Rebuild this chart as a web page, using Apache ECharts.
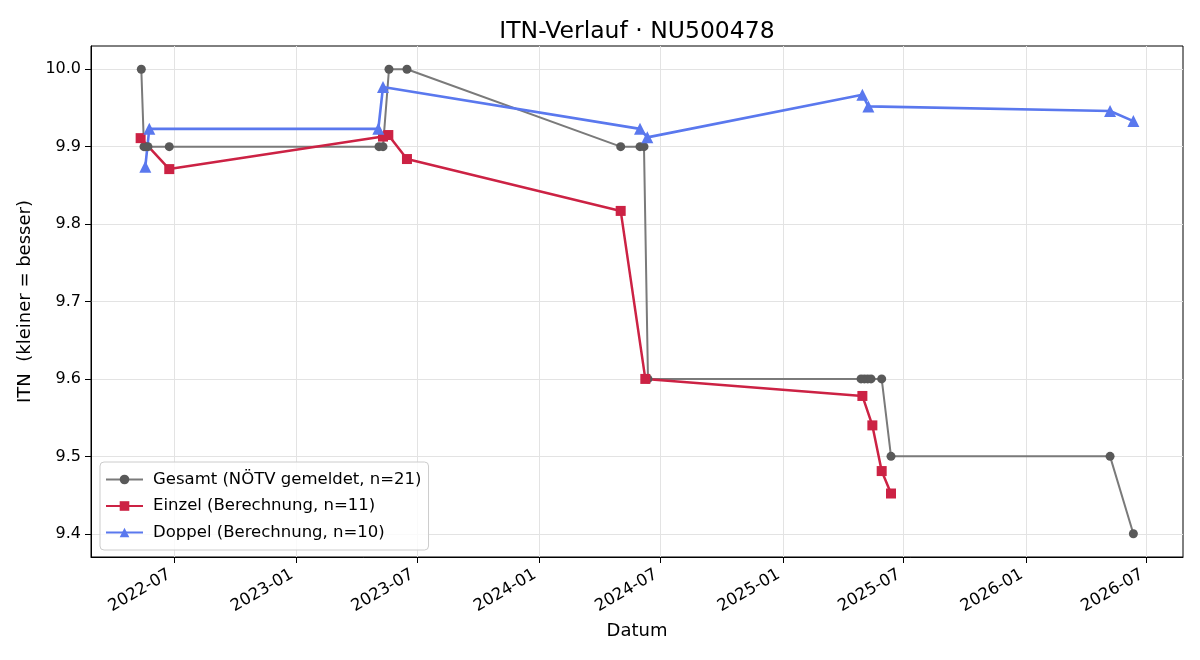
<!DOCTYPE html>
<html>
<head>
<meta charset="utf-8">
<title>ITN-Verlauf</title>
<script src="https://cdn.jsdelivr.net/npm/echarts@6/dist/echarts.min.js"></script>
<style>
  html, body { margin: 0; padding: 0; background: #fff; }
  #main { width: 1200px; height: 660px; }
</style>
</head>
<body>
<div id="main"></div>
<script>
// Gesamt (NÖTV gemeldet)
const gesamtDates = [
  "2022-05-13", "2022-05-17", "2022-05-19", "2022-05-23", "2022-06-24",
  "2023-05-05", "2023-05-11", "2023-05-20", "2023-06-16",
  "2024-05-02", "2024-05-31", "2024-06-06", "2024-06-12",
  "2025-04-28", "2025-05-03", "2025-05-08", "2025-05-13", "2025-05-29", "2025-06-12",
  "2026-05-07", "2026-06-11"
];
const gesamtValues = [
  10.0, 9.9, 9.9, 9.9, 9.9,
  9.9, 9.9, 10.0, 10.0,
  9.9, 9.9, 9.9, 9.6,
  9.6, 9.6, 9.6, 9.6, 9.6, 9.5,
  9.5, 9.4
];

// Einzel (Berechnung)
const einzelDates = [
  "2022-05-12", "2022-06-24", "2023-05-11", "2023-05-19", "2023-06-16",
  "2024-05-02", "2024-06-08", "2025-04-30", "2025-05-15", "2025-05-29", "2025-06-12"
];
const einzelValues = [9.911, 9.871, 9.913, 9.915, 9.884, 9.817, 9.600, 9.578, 9.540, 9.481, 9.452];

// Doppel (Berechnung)
const doppelDates = [
  "2022-05-19", "2022-05-25", "2023-05-04", "2023-05-11", "2024-05-31",
  "2024-06-11", "2025-04-30", "2025-05-09", "2026-05-07", "2026-06-11"
];
const doppelValues = [9.874, 9.923, 9.923, 9.977, 9.923, 9.912, 9.967, 9.952, 9.946, 9.933];

const xTickLabels = ["2022-07", "2023-01", "2023-07", "2024-01", "2024-07", "2025-01", "2025-07", "2026-01", "2026-07"];
const yTickValues = [9.4, 9.5, 9.6, 9.7, 9.8, 9.9, 10.0];

function toTime(s) {
  const p = s.split("-").map(Number);
  return Date.UTC(p[0], p[1] - 1, p[2] || 1);
}
function pairs(dates, values) {
  return dates.map((d, i) => [toTime(d), values[i]]);
}
function pad2(n) { return (n < 10 ? "0" : "") + n; }

// matplotlib-like 5% margins
const allT = [].concat(gesamtDates, einzelDates, doppelDates).map(toTime);
const tMin = Math.min.apply(null, allT), tMax = Math.max.apply(null, allT);
const tPad = (tMax - tMin) * 0.05;
const allV = [].concat(gesamtValues, einzelValues, doppelValues);
const vMin = Math.min.apply(null, allV), vMax = Math.max.apply(null, allV);
const vPad = (vMax - vMin) * 0.05;

const xTicks = xTickLabels.map(toTime);
const font = "DejaVu Sans";

var myChart = echarts.init(document.getElementById("main"));
var option = {
  animation: false,
  backgroundColor: "#fff",
  textStyle: { fontFamily: font },
  title: {
    text: "ITN-Verlauf · NU500478",
    left: 632,
    textAlign: "center",
    top: 15,
    textStyle: { fontFamily: font, fontSize: 23.5, fontWeight: "normal", color: "#000" }
  },
  grid: {
    left: 91, right: 17, top: 46, bottom: 103,
    show: true, borderColor: "#000", borderWidth: 1, backgroundColor: "transparent"
  },
  legend: {
    left: 100, top: 462,
    orient: "vertical",
    padding: [9, 7, 9, 5],
    itemGap: 9.5,
    itemWidth: 37,
    itemHeight: 12,
    backgroundColor: "rgba(255,255,255,0.8)",
    borderColor: "#cccccc",
    borderWidth: 1,
    borderRadius: 4,
    textStyle: { fontFamily: font, fontSize: 16.5, color: "#000", padding: [0, 0, 0, 5] },
    data: ["Gesamt (NÖTV gemeldet, n=21)", "Einzel (Berechnung, n=11)", "Doppel (Berechnung, n=10)"]
  },
  xAxis: {
    type: "value",
    min: tMin - tPad,
    max: tMax + tPad,
    name: "Datum",
    nameLocation: "middle",
    nameGap: 65,
    nameTextStyle: { fontFamily: font, fontSize: 18, color: "#000" },
    axisLine: { show: true, lineStyle: { color: "#000", width: 1 } },
    axisTick: { show: true, customValues: xTicks, length: 6, lineStyle: { color: "#000" } },
    axisLabel: {
      customValues: xTicks,
      rotate: 30,
      align: "right",
      verticalAlign: "top",
      margin: 4,
      padding: [0, 10, 0, 0],
      hideOverlap: false,
      showMinLabel: true,
      showMaxLabel: true,
      fontFamily: font,
      fontSize: 16.5,
      color: "#000",
      formatter: function (v) {
        const d = new Date(v);
        return d.getUTCFullYear() + "-" + pad2(d.getUTCMonth() + 1);
      }
    },
    splitLine: { show: true, lineStyle: { color: "#e3e3e3", width: 1 } }
  },
  yAxis: {
    type: "value",
    min: vMin - vPad,
    max: vMax + vPad,
    name: "ITN  (kleiner = besser)",
    nameLocation: "middle",
    nameGap: 49,
    nameTextStyle: { fontFamily: font, fontSize: 18, color: "#000" },
    axisLine: { show: true, lineStyle: { color: "#000", width: 1 } },
    axisTick: { show: true, customValues: yTickValues, length: 6, lineStyle: { color: "#000" } },
    axisLabel: {
      customValues: yTickValues,
      margin: 10,
      fontFamily: font,
      fontSize: 16,
      color: "#000",
      formatter: function (v) { return v.toFixed(1); }
    },
    splitLine: { show: true, lineStyle: { color: "#e3e3e3", width: 1 } }
  },
  series: [
    {
      name: "Gesamt (NÖTV gemeldet, n=21)",
      type: "line",
      data: pairs(gesamtDates, gesamtValues),
      symbol: "circle",
      symbolSize: 9,
      showAllSymbol: true,
      lineStyle: { color: "#7a7a7a", width: 2 },
      itemStyle: { color: "#595959", borderWidth: 0 }
    },
    {
      name: "Einzel (Berechnung, n=11)",
      type: "line",
      data: pairs(einzelDates, einzelValues),
      symbol: "rect",
      symbolSize: 10,
      showAllSymbol: true,
      lineStyle: { color: "#cc2244", width: 2.5 },
      itemStyle: { color: "#cc2244", borderWidth: 0 }
    },
    {
      name: "Doppel (Berechnung, n=10)",
      type: "line",
      data: pairs(doppelDates, doppelValues),
      symbol: "triangle",
      symbolSize: 12,
      showAllSymbol: true,
      lineStyle: { color: "#5a78ee", width: 2.6 },
      itemStyle: { color: "#5a78ee", borderWidth: 0 }
    }
  ]
};
option && myChart.setOption(option);
</script>
</body>
</html>
